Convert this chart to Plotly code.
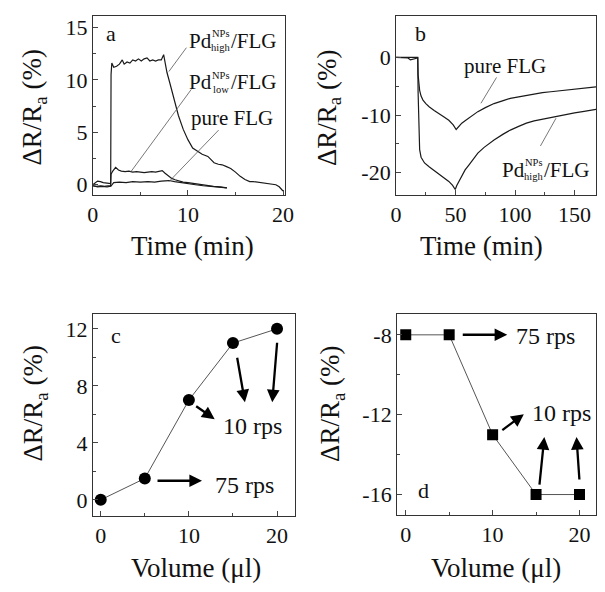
import plotly.graph_objects as go

W, H = 605, 592
FONT = "Liberation Serif"
INK = "#111111"


def px(x):
    return x / W


def py(y):
    return 1 - y / H


# ---------------- data: panel a (time in min, response in %) ----------------
a_high_t = [0, 0.4, 0.8, 1.2, 1.6, 1.88, 1.92, 2.0, 2.2, 2.5, 2.8, 3.1, 3.3, 3.6, 3.9,
            4.2, 4.5, 4.8, 5.1, 5.4, 5.7, 6.0, 6.3, 6.6, 6.9, 7.2, 7.45, 7.6, 7.8, 8.1,
            8.4, 8.7, 9.0, 9.5, 10.0, 10.5, 11.0, 11.5, 12.1, 12.75, 13.2, 13.6, 14.0,
            14.5, 15.0, 15.5, 16.0, 16.5, 16.85, 17.5, 18.2, 18.8, 19.25, 19.6, 20.0]
a_high_v = [-0.1, -0.15, -0.1, -0.15, -0.1, -0.1, 10.5, 11.6, 11.2, 11.3, 11.5, 11.9, 11.5,
            11.7, 11.6, 11.9, 11.8, 12.0, 11.8, 12.0, 12.1, 11.8, 11.9, 11.8, 11.9, 11.9,
            12.4, 11.6, 10.7, 9.7, 8.6, 7.5, 6.6, 5.3, 4.3, 3.5, 3.2, 2.9, 2.7, 2.1, 1.95,
            1.9, 1.75, 1.55, 1.2, 0.8, 0.5, 0.3, 0.3, 0.2, 0.15, 0.05, 0.0, -0.2, -0.6]

a_low_t = [0, 0.3, 0.5, 0.8, 1.1, 1.5, 1.88, 1.92, 2.1, 2.4, 2.7, 3.0, 3.4, 3.8, 4.2, 4.6,
           5.0, 5.4, 5.8, 6.2, 6.6, 7.0, 7.3, 7.6, 8.0, 8.3, 8.65, 9.0, 9.5, 10.0, 10.7,
           11.4, 12.0, 12.7, 13.4, 14.1]
a_low_v = [0.0, 0.2, 0.35, 0.3, 0.2, 0.15, 0.1, 1.0, 1.3, 1.65, 1.4, 1.3, 1.25, 1.3, 1.2,
           1.25, 1.2, 1.15, 1.2, 1.25, 1.2, 1.3, 1.35, 1.1, 0.8, 0.6, 0.47, 0.35, 0.25,
           0.2, 0.1, 0.0, -0.05, -0.15, -0.2, -0.3]

a_pure_t = [0, 0.5, 1.0, 1.5, 1.9, 2.2, 2.8, 3.5, 4.2, 5.0, 5.8, 6.5, 7.2, 8.0, 8.6, 9.2,
            10.0, 10.8, 11.6, 12.4, 13.2, 14.1]
a_pure_v = [-0.1, -0.2, -0.15, -0.2, -0.15, 0.2, 0.25, 0.2, 0.3, 0.25, 0.3, 0.25, 0.35,
            0.4, 0.3, 0.2, 0.1, 0.0, -0.1, -0.15, -0.2, -0.3]

# ---------------- data: panel b ----------------
b_pure_t = [0, 5, 10, 12, 14, 16, 18.2, 18.5, 19.0, 19.8, 21, 22.6, 25, 28, 32, 36.2, 40,
            44.3, 48, 50.5, 52.5, 55.2, 58, 60.6, 64, 68.7, 75, 82.3, 90, 96, 103, 109.5,
            116, 123, 130, 136.7, 143, 150, 158, 168]
b_pure_v = [0, 0, -0.1, -0.4, -0.3, -0.1, -0.1, -3.0, -4.8, -5.7, -6.7, -7.4, -8.0, -8.6,
            -9.2, -9.7, -10.3, -10.9, -11.7, -12.5, -12.0, -11.4, -11.0, -10.6, -10.0,
            -9.4, -8.7, -8.0, -7.5, -7.1, -6.85, -6.6, -6.35, -6.1, -5.95, -5.8, -5.65,
            -5.5, -5.35, -5.1]

b_high_t = [0, 5, 10, 12, 14, 16, 18.2, 18.5, 19.0, 19.8, 21, 22.5, 23.9, 28, 33.4, 38.9,
            44.3, 47.5, 49.7, 51, 52.4, 55.2, 58, 61, 64, 68.7, 74, 82.3, 90, 96, 103,
            109.5, 116, 123, 130, 136.7, 143, 150, 158, 168]
b_high_v = [0, 0, 0, -0.1, 0, 0, 0, -6, -12, -16.0, -17.3, -17.9, -18.3, -19.0, -19.8,
            -20.6, -21.5, -22.2, -22.9, -22.2, -21.7, -20.5, -19.5, -18.7, -17.9, -16.6,
            -15.6, -14.3, -13.3, -12.6, -11.95, -11.4, -11.0, -10.7, -10.45, -10.2, -9.9,
            -9.6, -9.35, -9.0]

# ---------------- data: panels c, d ----------------
vol = [0, 5, 10, 15, 20]
c_resp = [0, 1.5, 7, 11, 12]
d_resp = [-8, -8, -13, -16, -16]

# tick labels
a_yt = [0, 5, 10, 15]
b_yt = [0, -10, -20]
b_ytext = ["0", "-10", "-20"]
c_yt = [0, 4, 8, 12]
d_yt = [-8, -12, -16]
d_ytext = ["-8", "-12", "-16"]

fig = go.Figure()

line_style = dict(color="#1a1a1a", width=1.2)
for t, v in [(a_high_t, a_high_v), (a_low_t, a_low_v), (a_pure_t, a_pure_v)]:
    fig.add_trace(go.Scatter(x=t, y=v, mode="lines", line=line_style, xaxis="x", yaxis="y",
                             showlegend=False))
for t, v in [(b_pure_t, b_pure_v), (b_high_t, b_high_v)]:
    fig.add_trace(go.Scatter(x=t, y=v, mode="lines", line=line_style, xaxis="x2", yaxis="y2",
                             showlegend=False))
fig.add_trace(go.Scatter(x=vol, y=c_resp, mode="lines+markers",
                         line=dict(color="#555555", width=1),
                         marker=dict(symbol="circle", size=12, color="#000000"),
                         xaxis="x3", yaxis="y3", showlegend=False))
fig.add_trace(go.Scatter(x=vol, y=d_resp, mode="lines+markers",
                         line=dict(color="#555555", width=1),
                         marker=dict(symbol="square", size=11, color="#000000"),
                         xaxis="x4", yaxis="y4", showlegend=False))

tickfont = dict(family=FONT, size=22, color=INK)


def axis(domain, rng, **kw):
    d = dict(domain=domain, range=rng, showline=True, mirror=True, linecolor="#333333",
             linewidth=1, ticks="inside", ticklen=5, tickcolor="#444444", tickwidth=1,
             showgrid=False, zeroline=False, tickfont=tickfont)
    d.update(kw)
    return d


ya_dom = [py(195), py(15)]
yc_dom = [py(518), py(315)]

fig.update_layout(
    width=W, height=H, margin=dict(l=0, r=0, t=0, b=0),
    paper_bgcolor="white", plot_bgcolor="white",
    xaxis=axis([px(89), px(286)], [0, 20.2], anchor="y", tickvals=[0, 10, 20],
               minor=dict(ticks="inside", ticklen=3, tickvals=[5, 15], tickcolor="#444")),
    yaxis=axis(ya_dom, [-0.95, 16.1], anchor="x", tickvals=a_yt,
               minor=dict(ticks="inside", ticklen=3, tickvals=[2.5, 7.5, 12.5], tickcolor="#444")),
    xaxis2=axis([px(400), 1.0], [0, 168], anchor="y2", tickvals=[0, 50, 100, 150],
                minor=dict(ticks="inside", ticklen=3, tickvals=[25, 75, 125], tickcolor="#444")),
    yaxis2=axis(ya_dom, [-23.8, 7.2], anchor="x2", tickvals=b_yt, ticktext=b_ytext,
                minor=dict(ticks="inside", ticklen=3, tickvals=[-5, -15], tickcolor="#444")),
    xaxis3=axis([px(89), px(296)], [-0.9, 22.0], anchor="y3", tickvals=[0, 10, 20],
                minor=dict(ticks="inside", ticklen=3, tickvals=[5, 15], tickcolor="#444")),
    yaxis3=axis(yc_dom, [-1.1, 13.05], anchor="x3", tickvals=c_yt,
                minor=dict(ticks="inside", ticklen=3, tickvals=[2, 6, 10], tickcolor="#444")),
    xaxis4=axis([px(401), 1.0], [-1.0, 21.9], anchor="y4", tickvals=[0, 10, 20],
                minor=dict(ticks="inside", ticklen=3, tickvals=[5, 15], tickcolor="#444")),
    yaxis4=axis([py(517), py(315)], [-17.0, -6.95], anchor="x4", tickvals=d_yt,
                ticktext=d_ytext,
                minor=dict(ticks="inside", ticklen=3, tickvals=[-10, -14], tickcolor="#444")),
)

ann = []


def text(x, y, s, size=22, xanchor="center", yanchor="middle", angle=0):
    ann.append(dict(x=px(x), y=py(y), xref="paper", yref="paper", text=s, showarrow=False,
                    xanchor=xanchor, yanchor=yanchor, textangle=angle, borderpad=0,
                    font=dict(family=FONT, size=size, color=INK)))


def pdlabel(xl, y, sub):
    # "Pd" with stacked super/subscript, then "/FLG"
    text(xl, y, "Pd", size=21, xanchor="left")
    xs = xl + 23
    text(xs + 10, y - 7, "NPs", size=10.5)
    text(xs + 10, y + 7, sub, size=10.5)
    text(xs + 20, y, "/FLG", size=21, xanchor="left")


# axis titles
ytitle = "ΔR/R<sub>a</sub> (%)"
text(29, 107, ytitle, size=27, angle=-90)
text(331, 107, ytitle, size=27, angle=-90)
text(30, 405, ytitle, size=27, angle=-90)
text(335, 405, ytitle, size=27, angle=-90)
text(191, 247, "Time (min)", size=27)
text(488, 247, "Time (min)", size=27)
text(195, 571, "Volume (μl)", size=27)
text(502, 571, "Volume (μl)", size=27)

# panel letters
text(108, 33, "a", size=22)
text(425, 33, "b", size=22)
text(113, 337, "c", size=22)
text(428, 493, "d", size=22)

# curve labels
pdlabel(187, 40, "high")
pdlabel(187, 82, "low")
text(232, 118, "pure FLG", size=21)
text(512, 65, "pure FLG", size=21)
pdlabel(508, 170, "high")

# rps labels
text(213, 487, "75 rps", size=24, xanchor="left")
text(222, 428, "10 rps", size=24, xanchor="left")
text(522, 337, "75 rps", size=24, xanchor="left")
text(538, 415, "10 rps", size=24, xanchor="left")


def arrow(x0, y0, x1, y1):
    ann.append(dict(x=px(x1), y=py(y1), xref="paper", yref="paper", ax=x0 - x1, ay=y0 - y1,
                    axref="pixel", ayref="pixel", text="", showarrow=True, arrowhead=2,
                    arrowsize=1.1, arrowwidth=2.3, arrowcolor="#000000", standoff=0))


arrow(155, 483, 201, 483)
arrow(194, 407, 214, 421)
arrow(237, 358, 245, 404)
arrow(278, 343, 273, 404)
arrow(468, 336, 514, 336)
arrow(508, 433, 531, 416)
arrow(547, 488, 552, 439)
arrow(588, 483, 585, 439)

fig.update_layout(annotations=ann)

# leader lines
shapes = []
for (x0, y0, x1, y1) in [(185, 47, 167, 71), (190, 89, 128, 172), (218, 130, 167, 182),
                         (503, 77, 487, 103), (564, 118, 548, 146)]:
    shapes.append(dict(type="line", xref="paper", yref="paper", x0=px(x0), y0=py(y0),
                       x1=px(x1), y1=py(y1), line=dict(color="#555555", width=0.8)))
fig.update_layout(shapes=shapes)

fig.write_html("out.html", config={"displayModeBar": False},
               post_script="document.body.style.margin='0';document.body.style.padding='0';")
